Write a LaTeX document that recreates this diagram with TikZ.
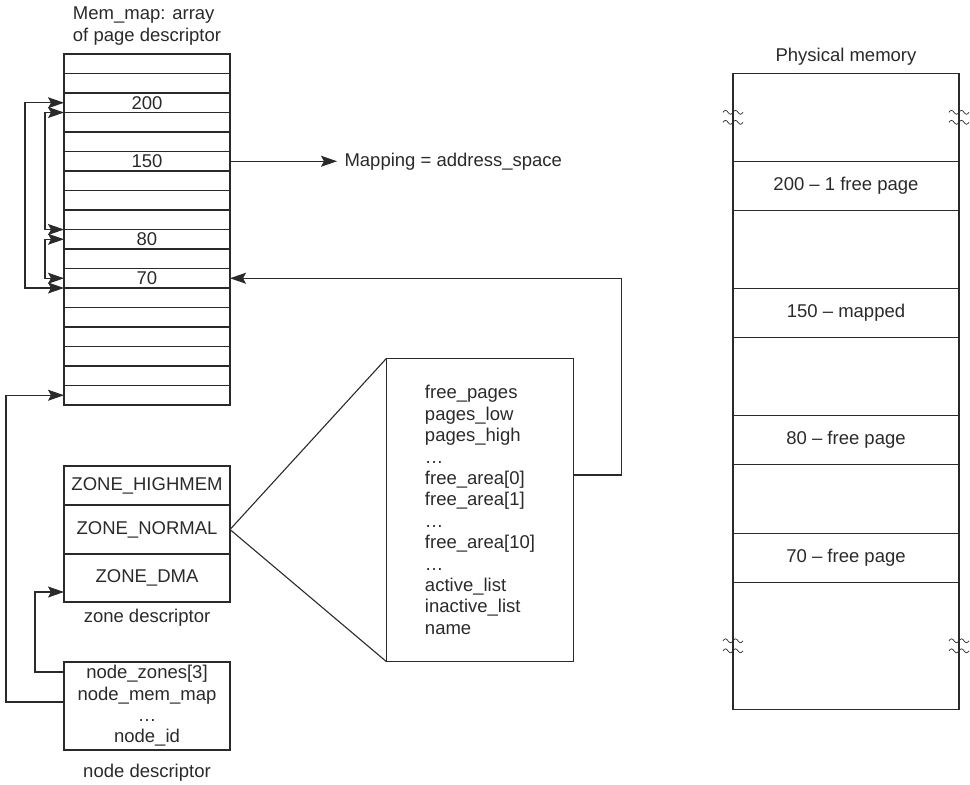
\documentclass[tikz,border=0pt]{standalone}
\usepackage{fontspec}
\setmainfont{Liberation Sans}
\usepackage{tikz}
\usetikzlibrary{arrows.meta,positioning}
\definecolor{InkGray}{HTML}{2A2A2A}

\begin{document}
\begin{tikzpicture}[
  x=1pt, y=-1pt,
  font=\fontsize{18.5}{21.4}\selectfont,
  color=InkGray, line width=1.1pt,
  node distance=4pt,
  cell/.style={draw, minimum width=166pt, minimum height=19.5pt, inner sep=0pt, outer sep=0pt},
  zone/.style={draw, minimum width=166pt, inner sep=0pt, outer sep=0pt},
  frame/.style={draw, minimum width=226pt, inner sep=0pt, outer sep=0pt},
  arrow/.style={-{Stealth[length=16pt, width=11pt, inset=3pt]}},
  darrow/.style={{Stealth[length=16pt, width=11pt, inset=3pt]}-{Stealth[length=16pt, width=11pt, inset=3pt]}},
  brk/.pic={\draw[line width=0.7pt] (-10,0) sin (-7.5,-2) cos (-5,0) sin (-2.5,2) cos (0,0)
    sin (2.5,-2) cos (5,0) sin (7.5,2) cos (10,0);}
]
  \useasboundingbox (0,0) rectangle (970,785);

  % mem_map array
  \foreach \i/\lbl in {0/{},1/{},2/200,3/{},4/{},5/150,6/{},7/{},8/{},9/80,10/{},11/70,12/{},13/{},14/{},15/{},16/{},17/{}}
    \node[cell] (m\i) at (147,{63.75+19.5*\i}) {\lbl};
  \node[align=left, above=5pt of m0] (memmap) {Mem\_map: array\\of page descriptor};
  \node[anchor=west, inner sep=7pt, right=107pt of m5] (mapping) {Mapping = address\_space};

  % zone descriptor
  \node[zone, minimum height=39pt] (z0) at (147,485.5) {ZONE\_HIGHMEM};
  \node[zone, minimum height=49pt, below=0pt of z0] (z1) {ZONE\_NORMAL};
  \node[zone, minimum height=48pt, below=0pt of z1] (z2) {ZONE\_DMA};
  \node[below=3pt of z2] (zlabel) {zone descriptor};

  % node descriptor
  \node[draw, align=center, minimum width=166pt, minimum height=88pt, inner sep=0pt, outer sep=0pt]
    (nd) at (147,706) {node\_zones[3]\\node\_mem\_map\\…\\node\_id};
  \node[below=10pt of nd] (nlabel) {node descriptor};

  % zone fields
  \node[draw, align=left, minimum width=187pt, minimum height=303.4pt, inner sep=0pt, outer sep=0pt]
    (zfields) at (480,510) {free\_pages\\pages\_low\\pages\_high\\…\\free\_area[0]\\free\_area[1]\\…\\free\_area[10]\\…\\active\_list\\inactive\_list\\name};

  % physical memory
  \node[frame, minimum height=88pt] (p0) at (846,117.3) {};
  \node[frame, minimum height=49pt, below=0pt of p0] (p1) {200 – 1 free page};
  \node[frame, minimum height=78pt, below=0pt of p1] (p2) {};
  \node[frame, minimum height=49pt, below=0pt of p2] (p3) {150 – mapped};
  \node[frame, minimum height=78pt, below=0pt of p3] (p4) {};
  \node[frame, minimum height=49pt, below=0pt of p4] (p5) {80 – free page};
  \node[frame, minimum height=69pt, below=0pt of p5] (p6) {};
  \node[frame, minimum height=49pt, below=0pt of p6] (p7) {70 – free page};
  \node[frame, minimum height=127pt, below=0pt of p7] (p8) {};
  \node[above=4pt of p0] (physlabel) {Physical memory};
  \foreach \a in {p0.west,p0.east,p8.west,p8.east} {
    \pic at ([yshift=5pt]\a) {brk};
    \pic at ([yshift=-5pt]\a) {brk};
  }

  % free list links
  \draw[darrow] (m2.west) -- ++(-39,0) |- (m11.south west);
  \draw[darrow] (m2.south west) -- ++(-19,0) |- (m9.north west);
  \draw[darrow] (m9.west) -- ++(-19,0) |- (m11.west);

  \draw[arrow] (m5.east) -- (mapping.west);
  \draw (z1.east) -- (zfields.north west);
  \draw (z1.east) -- (zfields.south west);
  \draw[arrow] ([yshift=35pt]zfields.east) -- ++(48,0) |- (m11.east);
  \draw[arrow] ([yshift=-10pt]nd.north west) -- ++(-29,0) |- ([yshift=10pt]z2.south west);
  \draw[arrow] ([yshift=-40pt]nd.north west) -- ++(-58,0) |- (m17.west);
\end{tikzpicture}
\end{document}
